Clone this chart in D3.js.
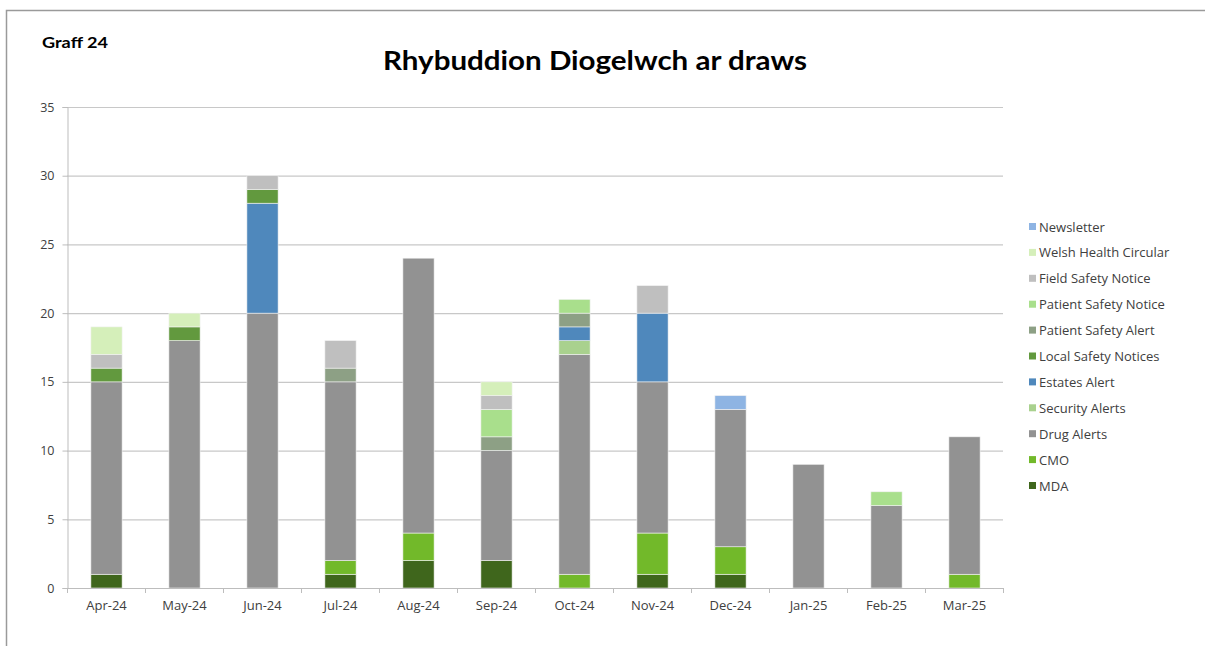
<!DOCTYPE html>
<html>
<head>
<meta charset="utf-8">
<script src="https://cdn.jsdelivr.net/npm/d3@7"></script>
<style>
  html, body { margin: 0; padding: 0; background: #fff; }
  svg { display: block; }
</style>
</head>
<body>
<svg id="chart" width="1205" height="646"></svg>
<script>
// Months on the category axis
const months = ["Apr-24","May-24","Jun-24","Jul-24","Aug-24","Sep-24","Oct-24","Nov-24","Dec-24","Jan-25","Feb-25","Mar-25"];

// One array per alert type, stacked bottom-up in this order
const mda                 = [1, 0, 0, 1, 2, 2, 0, 1, 1, 0, 0, 0];
const cmo                 = [0, 0, 0, 1, 2, 0, 1, 3, 2, 0, 0, 1];
const drugAlerts          = [14, 18, 20, 13, 20, 8, 16, 11, 10, 9, 6, 10];
const securityAlerts      = [0, 0, 0, 0, 0, 0, 1, 0, 0, 0, 0, 0];
const estatesAlert        = [0, 0, 8, 0, 0, 0, 1, 5, 0, 0, 0, 0];
const localSafetyNotices  = [1, 1, 1, 0, 0, 0, 0, 0, 0, 0, 0, 0];
const patientSafetyAlert  = [0, 0, 0, 1, 0, 1, 1, 0, 0, 0, 0, 0];
const patientSafetyNotice = [0, 0, 0, 0, 0, 2, 1, 0, 0, 0, 1, 0];
const fieldSafetyNotice   = [1, 0, 1, 2, 0, 1, 0, 2, 0, 0, 0, 0];
const welshHealthCircular = [2, 1, 0, 0, 0, 1, 0, 0, 0, 0, 0, 0];
const newsletter          = [0, 0, 0, 0, 0, 0, 0, 0, 1, 0, 0, 0];

const seriesNames = ["MDA","CMO","Drug Alerts","Security Alerts","Estates Alert","Local Safety Notices",
  "Patient Safety Alert","Patient Safety Notice","Field Safety Notice","Welsh Health Circular","Newsletter"];
const seriesValues = [mda, cmo, drugAlerts, securityAlerts, estatesAlert, localSafetyNotices,
  patientSafetyAlert, patientSafetyNotice, fieldSafetyNotice, welshHealthCircular, newsletter];
const seriesColors = ["#3f661c","#72b92a","#929292","#a9d18e","#4f88bc","#62993e",
  "#8da085","#a9df8c","#bfbfbf","#d5efba","#8eb4e3"];

const yTicks = [0, 5, 10, 15, 20, 25, 30, 35];

const rows = months.map((m, i) => {
  const r = { month: m };
  seriesNames.forEach((s, k) => r[s] = seriesValues[k][i]);
  return r;
});

const svg = d3.select("#chart");
const font = "'Open Sans', 'Noto Sans', sans-serif";

// outer frame
svg.append("path")
  .attr("d", "M6.5,646 V10.5 H1205")
  .attr("fill", "none").attr("stroke", "#9a9a9a").attr("stroke-width", 1.5);

svg.append("text")
  .attr("x", 42).attr("y", 48)
  .attr("font-family", "Lato, sans-serif").attr("font-weight", 700)
  .attr("font-size", 16).attr("fill", "#000")
  .attr("textLength", 66).attr("lengthAdjust", "spacingAndGlyphs")
  .text("Graff 24");

svg.append("text")
  .attr("x", 595).attr("y", 70)
  .attr("text-anchor", "middle")
  .attr("font-family", "Lato, sans-serif").attr("font-weight", 700)
  .attr("font-size", 27.5).attr("fill", "#000")
  .attr("textLength", 424).attr("lengthAdjust", "spacingAndGlyphs")
  .text("Rhybuddion Diogelwch ar draws");

const plot = { left: 67, right: 1003, top: 107, bottom: 588 };

const x = d3.scaleBand().domain(months).range([plot.left, plot.right]).paddingInner(0.6).paddingOuter(0.3);
const y = d3.scaleLinear().domain([0, 35]).range([plot.bottom, plot.top]);

// gridlines
svg.append("g").selectAll("line").data(yTicks.filter(t => t > 0)).join("line")
  .attr("x1", plot.left).attr("x2", plot.right)
  .attr("y1", d => y(d) + 0.5).attr("y2", d => y(d) + 0.5)
  .attr("stroke", "#c8c8c8").attr("stroke-width", 1.2);

// y axis
const yAxis = svg.append("g")
  .attr("transform", `translate(${plot.left + 0.5},0)`)
  .call(d3.axisLeft(y).tickValues(yTicks).tickSize(5).tickPadding(8));
yAxis.select(".domain").attr("stroke", "#bdbdbd");
yAxis.selectAll(".tick line").attr("stroke", "#bdbdbd");
yAxis.selectAll(".tick text").attr("font-family", font).attr("font-size", 12.5).attr("fill", "#404040");

// stacked bars
const stack = d3.stack().keys(seriesNames)(rows);
svg.append("g").selectAll("g").data(stack).join("g")
  .attr("fill", (d, i) => seriesColors[i])
  .selectAll("rect").data(d => d.filter(p => p[1] - p[0] > 0)).join("rect")
  .attr("x", d => x(d.data.month) + 0.5)
  .attr("width", x.bandwidth())
  .attr("y", d => y(d[1]))
  .attr("height", d => y(d[0]) - y(d[1]))
  .attr("stroke", "#f2f2f2").attr("stroke-width", 0.6);

// x axis with ticks between categories
const xg = svg.append("g");
xg.append("line")
  .attr("x1", plot.left).attr("x2", plot.right)
  .attr("y1", plot.bottom + 0.5).attr("y2", plot.bottom + 0.5)
  .attr("stroke", "#bdbdbd").attr("stroke-width", 1.2);
const step = (plot.right - plot.left) / months.length;
xg.selectAll("line.sep").data(d3.range(months.length + 1)).join("line")
  .attr("class", "sep")
  .attr("x1", i => plot.left + i * step + 0.5).attr("x2", i => plot.left + i * step + 0.5)
  .attr("y1", plot.bottom).attr("y2", plot.bottom + 5)
  .attr("stroke", "#bdbdbd");
xg.selectAll("text").data(months).join("text")
  .attr("x", d => x(d) + x.bandwidth() / 2 + 0.5)
  .attr("y", plot.bottom + 22)
  .attr("text-anchor", "middle")
  .attr("font-family", font).attr("font-size", 13).attr("fill", "#404040")
  .text(d => d);

// legend, top entry = last series
const legendOrder = seriesNames.map((n, i) => i).reverse();
const lg = svg.append("g").attr("transform", "translate(1029,227)");
const item = lg.selectAll("g").data(legendOrder).join("g")
  .attr("transform", (d, j) => `translate(0,${j * 25.9})`);
item.append("rect")
  .attr("x", 0).attr("y", -4).attr("width", 7).attr("height", 7)
  .attr("fill", i => seriesColors[i]);
item.append("text")
  .attr("x", 10).attr("y", 4.5)
  .attr("font-family", font).attr("font-size", 13).attr("fill", "#404040")
  .text(i => seriesNames[i]);
</script>
</body>
</html>
